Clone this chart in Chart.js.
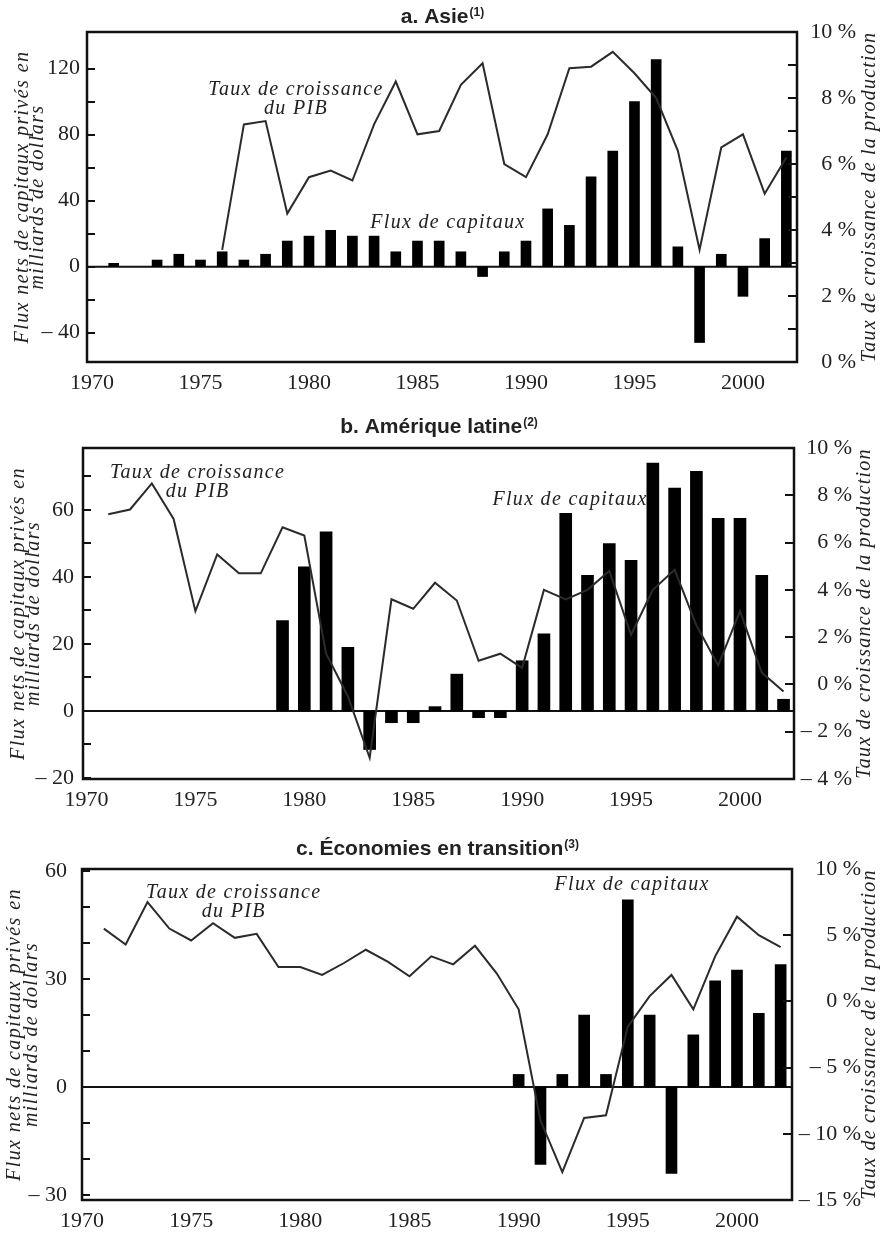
<!DOCTYPE html>
<html>
<head>
<meta charset="utf-8">
<script src="https://cdn.jsdelivr.net/npm/chart.js"></script>
<style>
  body { margin: 0; background: #fff; }
  .panel { position: absolute; left: 0; width: 882px; height: 413px; }
</style>
</head>
<body>
<div class="panel" style="top:0"><canvas id="asie" width="882" height="413"></canvas></div>
<div class="panel" style="top:413px"><canvas id="amlat" width="882" height="413"></canvas></div>
<div class="panel" style="top:826px"><canvas id="transition" width="882" height="413"></canvas></div>
<script>
var years = [1971, 1972, 1973, 1974, 1975, 1976, 1977, 1978, 1979, 1980,
  1981, 1982, 1983, 1984, 1985, 1986, 1987, 1988, 1989, 1990,
  1991, 1992, 1993, 1994, 1995, 1996, 1997, 1998, 1999, 2000, 2001, 2002];

// net private capital flows, billions of dollars
var fluxAsie = [2, null, 4, 7.5, 4, 9, 4, 7.5, 15.5, 18.5,
  22, 18.5, 18.5, 9, 15.5, 15.5, 9, -6, 9, 15.5,
  35, 25, 54.5, 70, 100, 125.5, 12, -46, 7.5, -18, 17, 70];
var fluxAmLat = [null, null, null, null, null, null, null, null, 27, 43,
  53.5, 19, -11.5, -3.5, -3.5, 1.3, 11, -2, -2, 15,
  23, 59, 40.5, 50, 45, 74, 66.5, 71.5, 57.5, 57.5, 40.5, 3.5];
var fluxTransition = [null, null, null, null, null, null, null, null, null, null,
  null, null, null, null, null, null, null, null, null, 3.5,
  -21.5, 3.5, 20, 3.5, 52, 20, -24, 14.5, 29.5, 32.5, 20.5, 34];

// output growth, percent
var pibAsie = [null, null, null, null, null, 3.4, 7.2, 7.3, 4.5, 5.6,
  5.8, 5.5, 7.2, 8.5, 6.9, 7.0, 8.4, 9.05, 6.0, 5.6,
  6.9, 8.9, 8.95, 9.4, 8.75, 8.0, 6.4, 3.4, 6.5, 6.9, 5.1, 6.2];
var pibAmLat = [7.2, 7.4, 8.5, 7.0, 3.1, 5.5, 4.7, 4.7, 6.65, 6.3,
  1.3, -0.5, -3.1, 3.6, 3.2, 4.3, 3.55, 1.0, 1.3, 0.7,
  4.0, 3.6, 4.0, 4.8, 2.1, 4.0, 4.85, 2.5, 0.8, 3.1, 0.5, -0.3];
var pibTransition = [5.5, 4.3, 7.5, 5.5, 4.6, 5.9, 4.8, 5.1, 2.6, 2.6,
  2.0, 2.9, 3.9, 3.0, 1.9, 3.4, 2.8, 4.2, 2.1, -0.6,
  -9.0, -12.9, -8.8, -8.6, -1.9, 0.4, 2.0, -0.6, 3.4, 6.4, 5.0, 4.1];

var yearTicks = [1970, 1975, 1980, 1985, 1990, 1995, 2000];

var ticksFluxAsie = [-40, -20, 0, 20, 40, 60, 80, 100, 120];
var labelsFluxAsie = [-40, 0, 40, 80, 120];
var ticksPibAsie = [0, 1, 2, 3, 4, 5, 6, 7, 8, 9, 10];
var labelsPibAsie = [0, 2, 4, 6, 8, 10];

var ticksFluxAmLat = [-20, -10, 0, 10, 20, 30, 40, 50, 60, 70];
var labelsFluxAmLat = [-20, 0, 20, 40, 60];
var ticksPibAmLat = [-4, -2, 0, 2, 4, 6, 8, 10];

var ticksFluxTransition = [-30, -20, -10, 0, 10, 20, 30, 40, 50, 60];
var labelsFluxTransition = [-30, 0, 30, 60];
var ticksPibTransition = [-15, -10, -5, 0, 5, 10];

var W = 882, H = 413;
var serif = '"Liberation Serif", "Times New Roman", serif';
var sans = '"Liberation Sans", Arial, sans-serif';

Chart.defaults.font.family = serif;
Chart.defaults.color = '#222';

function signed(v) {
  return v < 0 ? '\u2013 ' + Math.abs(v) : String(v);
}

function points(values) {
  return years.map(function (y, i) { return { x: y, y: values[i] }; });
}

function setTicks(list) {
  return function (scale) {
    scale.ticks = list.map(function (v) { return { value: v }; });
  };
}

function fixSize(prop, size) {
  return function (scale) { scale[prop] = size; };
}

var panelDeco = {
  id: 'panelDeco',
  beforeDatasetsDraw: function (chart) {
    var a = chart.chartArea, ctx = chart.ctx;
    var y0 = chart.scales.yL.getPixelForValue(0);
    ctx.save();
    ctx.strokeStyle = '#111';
    ctx.lineWidth = 2;
    ctx.beginPath();
    ctx.moveTo(a.left, y0);
    ctx.lineTo(a.right, y0);
    ctx.stroke();
    ctx.restore();
  },
  afterDatasetsDraw: function (chart, args, o) {
    var a = chart.chartArea, ctx = chart.ctx, s = chart.scales;
    var midY = (a.top + a.bottom) / 2;
    ctx.save();

    // tick marks pointing into the plot
    ctx.strokeStyle = '#111';
    ctx.lineWidth = 2;
    ctx.beginPath();
    s.yL.ticks.forEach(function (t) {
      var y = Math.round(s.yL.getPixelForValue(t.value));
      ctx.moveTo(a.left, y);
      ctx.lineTo(a.left + 8, y);
    });
    s.yR.ticks.forEach(function (t) {
      var y = Math.round(s.yR.getPixelForValue(t.value));
      ctx.moveTo(a.right, y);
      ctx.lineTo(a.right - 9, y);
    });
    ctx.stroke();

    ctx.lineWidth = 2.5;
    ctx.strokeRect(a.left, a.top, a.right - a.left, a.bottom - a.top);

    ctx.fillStyle = '#222';
    ctx.textAlign = 'center';
    ctx.textBaseline = 'middle';

    // labels inside the plot
    ctx.font = 'italic 20px ' + serif;
    ctx.letterSpacing = '1.3px';
    o.notes.forEach(function (n) {
      var x = s.x.getPixelForValue(n.x), y = s.yL.getPixelForValue(n.y);
      n.lines.forEach(function (line, i) { ctx.fillText(line, x, y + i * 19); });
    });

    // axis titles, both read bottom to top
    ctx.letterSpacing = '1.4px';
    o.leftTitle.forEach(function (line, i) {
      ctx.save();
      ctx.translate(a.left - o.leftTitleX[i], midY);
      ctx.rotate(-Math.PI / 2);
      ctx.fillText(line, 0, 0);
      ctx.restore();
    });
    ctx.letterSpacing = '1.2px';
    ctx.save();
    ctx.translate(a.right + o.rightTitleX, midY);
    ctx.rotate(-Math.PI / 2);
    ctx.fillText(o.rightTitle, 0, 0);
    ctx.restore();

    // panel title with superscript note number
    ctx.letterSpacing = '0px';
    ctx.textAlign = 'left';
    ctx.textBaseline = 'alphabetic';
    ctx.font = 'bold 21px ' + sans;
    var w1 = ctx.measureText(o.title).width;
    ctx.font = 'bold 12px ' + sans;
    var w2 = ctx.measureText(o.sup).width;
    var x0 = (a.left + a.right) / 2 - (w1 + w2) / 2;
    ctx.font = 'bold 21px ' + sans;
    ctx.fillText(o.title, x0, o.titleY);
    ctx.font = 'bold 12px ' + sans;
    ctx.fillText(o.sup, x0 + w1 + 1, o.titleY - 7);

    ctx.restore();
  }
};

function panel(id, p) {
  return new Chart(document.getElementById(id), {
    type: 'bar',
    data: {
      datasets: [
        {
          type: 'line',
          label: 'Taux de croissance du PIB',
          data: points(p.pib),
          yAxisID: 'yR',
          borderColor: '#2b2b2b',
          borderWidth: 2,
          pointRadius: 0,
          tension: 0,
          order: 0
        },
        {
          type: 'bar',
          label: 'Flux de capitaux',
          data: points(p.flux),
          yAxisID: 'yL',
          backgroundColor: '#000',
          barThickness: p.bar,
          order: 1
        }
      ]
    },
    options: {
      responsive: false,
      animation: false,
      layout: { padding: { top: p.area.top, left: 0, right: W - p.labelRight, bottom: 0 } },
      plugins: {
        legend: { display: false },
        tooltip: { enabled: false },
        panelDeco: {
          title: p.title,
          sup: p.sup,
          titleY: p.titleY,
          notes: p.notes,
          leftTitle: ['Flux nets de capitaux privés en', 'milliards de dollars'],
          leftTitleX: p.leftTitleX,
          rightTitle: 'Taux de croissance de la production',
          rightTitleX: p.rightTitleX
        }
      },
      scales: {
        x: {
          type: 'linear',
          position: 'bottom',
          min: p.xMin,
          max: p.xMax,
          offset: false,
          grid: { display: false, drawTicks: false },
          border: { display: false },
          afterBuildTicks: setTicks(yearTicks),
          afterFit: fixSize('height', H - p.area.bottom),
          ticks: {
            padding: 8,
            autoSkip: false,
            maxRotation: 0,
            font: { size: 22 },
            callback: function (v) { return String(v); }
          }
        },
        yL: {
          type: 'linear',
          position: 'left',
          min: p.leftMin,
          max: p.leftMax,
          grid: { display: false, drawTicks: false },
          border: { display: false },
          afterBuildTicks: setTicks(p.leftTicks),
          afterFit: fixSize('width', p.area.left),
          ticks: {
            padding: p.leftPad,
            autoSkip: false,
            font: { size: 22 },
            callback: function (v) { return p.leftLabels.indexOf(v) >= 0 ? signed(v) : ''; }
          }
        },
        yR: {
          type: 'linear',
          position: 'right',
          min: p.rightMin,
          max: p.rightMax,
          grid: { display: false, drawTicks: false },
          border: { display: false },
          afterBuildTicks: setTicks(p.rightTicks),
          afterFit: fixSize('width', p.labelRight - p.area.right),
          ticks: {
            padding: 4,
            crossAlign: 'far',
            autoSkip: false,
            font: { size: 22 },
            callback: function (v) { return p.rightLabels.indexOf(v) >= 0 ? signed(v) + ' %' : ''; }
          }
        }
      }
    },
    plugins: [panelDeco]
  });
}

panel('asie', {
  title: 'a. Asie', sup: '(1)', titleY: 23,
  area: { left: 87, right: 797, top: 32, bottom: 362 }, labelRight: 856,
  flux: fluxAsie, pib: pibAsie, bar: 10,
  xMin: 1969.77, xMax: 2002.49,
  leftMin: -57.8, leftMax: 142.2, leftTicks: ticksFluxAsie, leftLabels: labelsFluxAsie, leftPad: 7,
  rightMin: 0, rightMax: 10, rightTicks: ticksPibAsie, rightLabels: labelsPibAsie,
  leftTitleX: [64, 49], rightTitleX: 73,
  notes: [
    { lines: ['Taux de croissance', 'du PIB'], x: 1979.4, y: 107 },
    { lines: ['Flux de capitaux'], x: 1986.4, y: 26.5 }
  ]
});

panel('amlat', {
  title: 'b. Amérique latine', sup: '(2)', titleY: 20,
  area: { left: 83, right: 794, top: 35, bottom: 366 }, labelRight: 852,
  flux: fluxAmLat, pib: pibAmLat, bar: 12,
  xMin: 1969.84, xMax: 2002.48,
  leftMin: -20.3, leftMax: 78.5, leftTicks: ticksFluxAmLat, leftLabels: labelsFluxAmLat, leftPad: 9,
  rightMin: -4, rightMax: 10, rightTicks: ticksPibAmLat, rightLabels: ticksPibAmLat,
  leftTitleX: [64, 49], rightTitleX: 71,
  notes: [
    { lines: ['Taux de croissance', 'du PIB'], x: 1975.1, y: 71 },
    { lines: ['Flux de capitaux'], x: 1992.2, y: 63 }
  ]
});

panel('transition', {
  title: 'c. Économies en transition', sup: '(3)', titleY: 29,
  area: { left: 82, right: 792, top: 43, bottom: 374 }, labelRight: 861,
  flux: fluxTransition, pib: pibTransition, bar: 11,
  xMin: 1970, xMax: 2002.52,
  leftMin: -31.4, leftMax: 60.6, leftTicks: ticksFluxTransition, leftLabels: labelsFluxTransition, leftPad: 15,
  rightMin: -15, rightMax: 10, rightTicks: ticksPibTransition, rightLabels: ticksPibTransition,
  leftTitleX: [67, 50], rightTitleX: 78,
  notes: [
    { lines: ['Taux de croissance', 'du PIB'], x: 1976.95, y: 53.9 },
    { lines: ['Flux de capitaux'], x: 1995.2, y: 56.1 }
  ]
});
</script>
</body>
</html>
